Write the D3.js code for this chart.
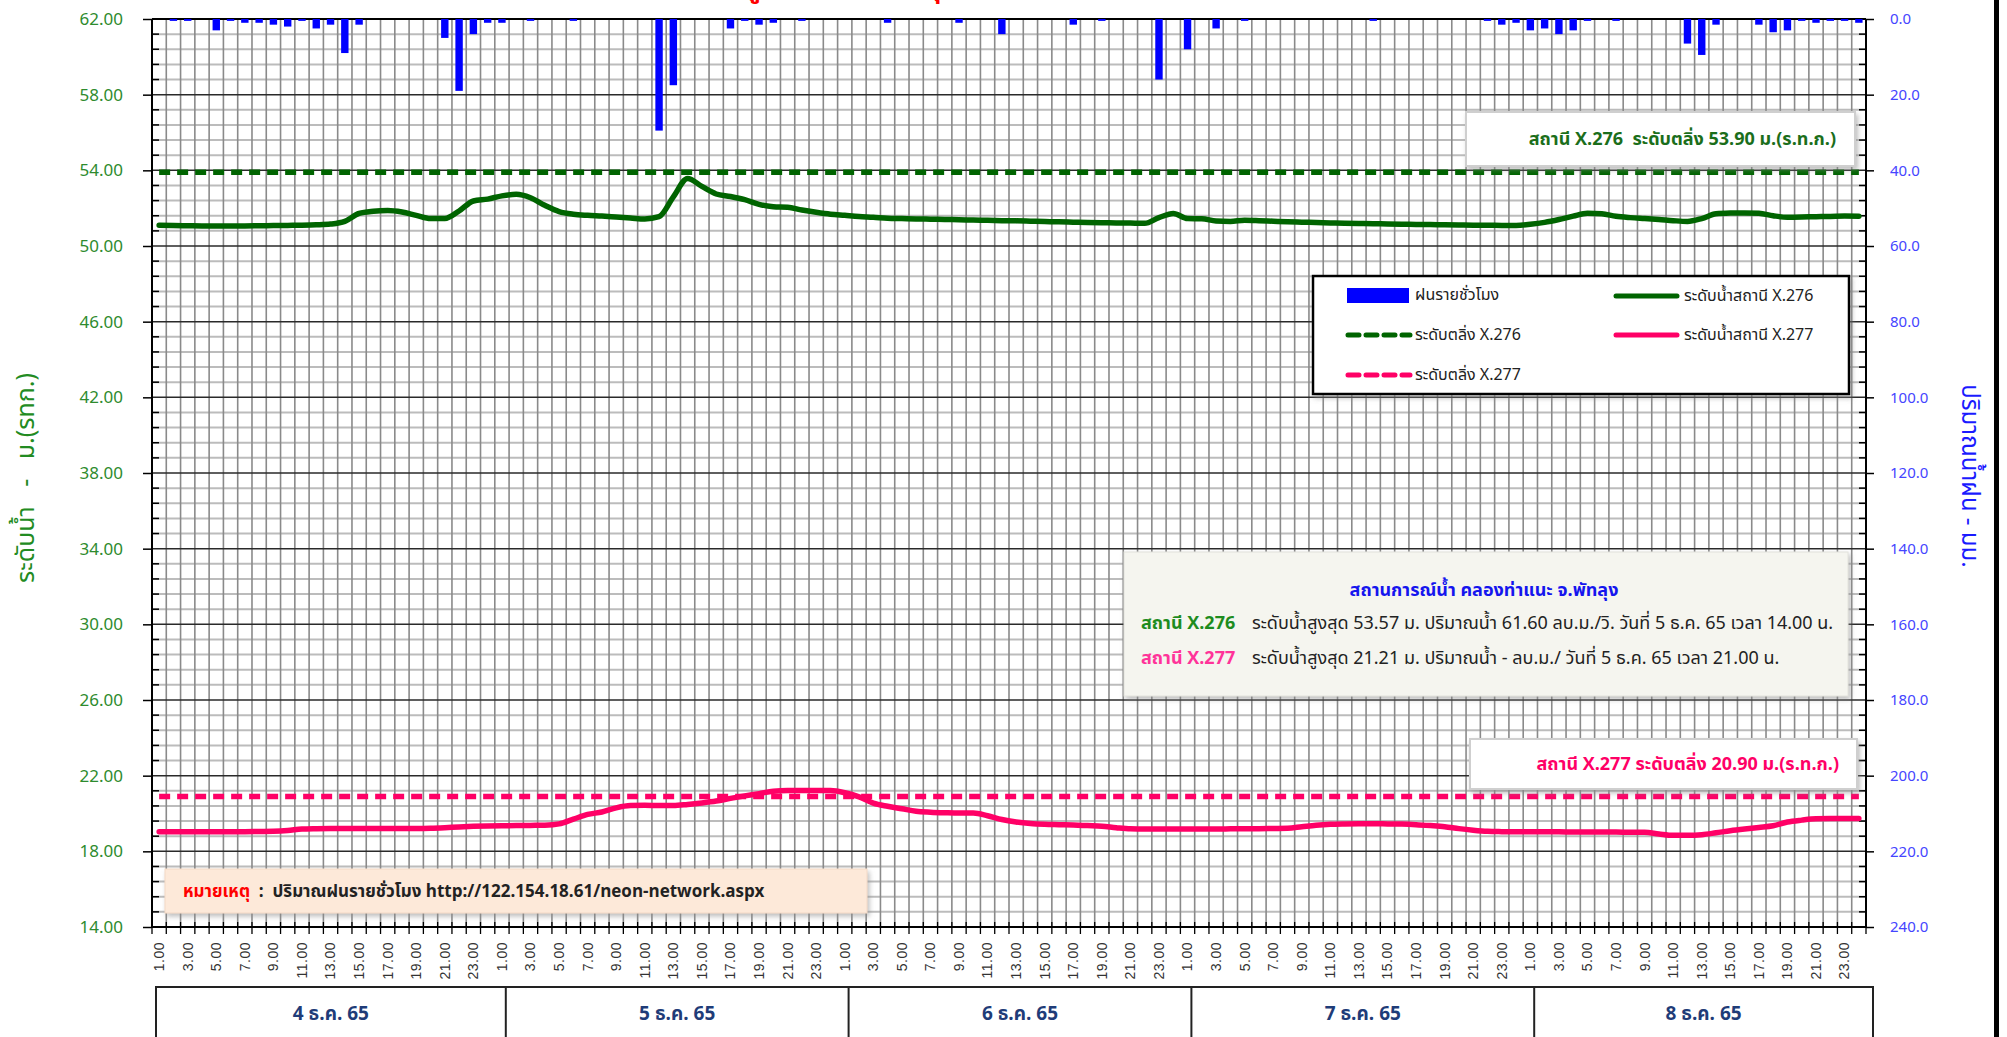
<!DOCTYPE html>
<html><head><meta charset="utf-8">
<script src="https://cdn.jsdelivr.net/npm/d3@7"></script>
<style>body{margin:0;background:#fff;} svg{display:block}</style>
</head><body>
<svg id="c" width="2007" height="1037"></svg>
<script>
// ---------------- DATA ----------------
const days = ["4 ธ.ค. 65", "5 ธ.ค. 65", "6 ธ.ค. 65", "7 ธ.ค. 65", "8 ธ.ค. 65"];
const hourTickLabels = ["1.00","3.00","5.00","7.00","9.00","11.00","13.00","15.00","17.00","19.00","21.00","23.00"];
const levelTicks = [14, 18, 22, 26, 30, 34, 38, 42, 46, 50, 54, 58, 62];
const rainTicks = [0, 20, 40, 60, 80, 100, 120, 140, 160, 180, 200, 220, 240];

// hourly rainfall (mm), 4-8 Dec 65, 1.00 .. 24.00 each day
const rain = [
  0, 0.5, 0.5, 0, 3.0, 0.5, 1.0, 1.0, 1.5, 2.0, 0.5, 2.5, 1.5, 9.0, 1.5, 0, 0, 0, 0, 0, 5.0, 19.0, 4.0, 1.0,
  1.0, 0, 0.5, 0, 0, 0.5, 0, 0, 0, 0, 0, 29.5, 17.5, 0, 0, 0, 2.5, 0.5, 1.5, 1.0, 0, 0.5, 0, 0,
  0, 0, 0, 1.0, 0, 0, 0, 0, 1.0, 0, 0, 4.0, 0, 0, 0, 0, 1.5, 0, 0.5, 0, 0, 0, 16.0, 0,
  8.0, 0, 2.5, 0, 0.5, 0, 0, 0, 0, 0, 0, 0, 0, 0.5, 0, 0, 0, 0, 0, 0, 0, 0.5, 1.5, 1.0,
  3.0, 2.5, 4.0, 3.0, 0.5, 0, 0.5, 0, 0, 0, 0, 6.5, 9.5, 1.5, 0, 0, 1.5, 3.5, 3.0, 0.5, 1.0, 0.5, 0.5, 1.0
];

// water level station X.276 (m. MSL)
const level276 = [
  51.10, 51.08, 51.07, 51.06, 51.06, 51.06, 51.06, 51.07, 51.08, 51.09, 51.10, 51.12, 51.16, 51.30,
  51.72, 51.84, 51.88, 51.80, 51.62, 51.45, 51.45, 51.85, 52.38, 52.48,
  52.65, 52.73, 52.55, 52.15, 51.82, 51.68, 51.62, 51.58, 51.53, 51.48, 51.43, 51.55, 52.60, 53.57,
  53.15, 52.75, 52.62, 52.45, 52.20, 52.08, 52.05, 51.90, 51.78, 51.68,
  51.62, 51.56, 51.52, 51.47, 51.45, 51.43, 51.42, 51.40, 51.39, 51.37, 51.36, 51.34, 51.33, 51.31,
  51.29, 51.28, 51.26, 51.24, 51.23, 51.22, 51.21, 51.20, 51.50, 51.72,
  51.45, 51.44, 51.32, 51.30, 51.36, 51.34, 51.31, 51.28, 51.26, 51.24, 51.22, 51.20, 51.19, 51.18,
  51.16, 51.15, 51.14, 51.13, 51.12, 51.11, 51.10, 51.10, 51.09, 51.09,
  51.15, 51.25, 51.40, 51.58, 51.73, 51.70, 51.57, 51.50, 51.45, 51.40, 51.34, 51.30, 51.45, 51.70,
  51.74, 51.75, 51.73, 51.60, 51.52, 51.53, 51.55, 51.56, 51.58, 51.57
];

// water level station X.277 (m. MSL)
const level277 = [
  19.04, 19.04, 19.04, 19.04, 19.04, 19.04, 19.04, 19.05, 19.06, 19.10, 19.18, 19.20, 19.21, 19.21,
  19.21, 19.21, 19.21, 19.21, 19.21, 19.22, 19.25, 19.29, 19.32, 19.34,
  19.35, 19.36, 19.37, 19.38, 19.45, 19.70, 19.95, 20.08, 20.30, 20.42, 20.43, 20.42, 20.42, 20.48,
  20.56, 20.66, 20.80, 20.93, 21.05, 21.18, 21.21, 21.21, 21.21, 21.21,
  21.10, 20.88, 20.55, 20.38, 20.25, 20.12, 20.07, 20.04, 20.02, 20.02, 19.88, 19.68, 19.55, 19.47,
  19.43, 19.41, 19.39, 19.36, 19.33, 19.25, 19.19, 19.18, 19.18, 19.18,
  19.18, 19.18, 19.18, 19.19, 19.20, 19.20, 19.21, 19.22, 19.30, 19.38, 19.43, 19.45, 19.46, 19.46,
  19.45, 19.44, 19.41, 19.36, 19.30, 19.20, 19.12, 19.06, 19.04, 19.03,
  19.03, 19.03, 19.03, 19.02, 19.02, 19.02, 19.02, 19.01, 19.01, 18.92, 18.85, 18.85, 18.88, 18.98,
  19.09, 19.18, 19.26, 19.35, 19.55, 19.65, 19.72, 19.73, 19.73, 19.73
];
const bank276 = 53.90;
const bank277 = 20.90;

// ---------------- LAYOUT ----------------
const FONT = "Tahoma, 'Noto Sans Thai', 'Noto Sans', 'DejaVu Sans', sans-serif";
const NUMFONT = "'Noto Sans', 'Liberation Sans', sans-serif";
const L = 152, R = 1866, T = 19, B = 927;
const GREEN = "#006400", PINK = "#ff0066", BLUE = "#0000ff";

const svg = d3.select("#c");
svg.append("rect").attr("width", 2007).attr("height", 1037).attr("fill", "#fff");

const defs = svg.append("defs");
const f = defs.append("filter").attr("id", "sh").attr("x", "-5%").attr("y", "-20%").attr("width", "115%").attr("height", "150%");
f.append("feDropShadow").attr("dx", 2).attr("dy", 3).attr("stdDeviation", 2.5).attr("flood-color", "#888").attr("flood-opacity", 0.55);

const idx = d3.range(rain.length);
const x = d3.scaleBand().domain(idx).range([L, R]).paddingInner(0).paddingOuter(0);
const bw = x.bandwidth();
const cx = i => x(i) + bw / 2;
const y = d3.scaleLinear().domain([14, 62]).range([B, T]);
const yr = d3.scaleLinear().domain([0, 240]).range([T, B]);

// title (mostly above the visible area, as in the source)
svg.append("text").attr("x", 693).attr("y", -3).attr("font-family", FONT).attr("font-size", 26)
  .attr("font-weight", "bold").attr("fill", "#ff0000").text("แผนภูมิระดับน้ำ จ.พัทลุง");

// ---------------- GRID ----------------
const grid = svg.append("g");
const minorVals = d3.range(0, 61).map(k => 14 + k * 0.8).filter(v => Math.abs((v - 14) / 4 - Math.round((v - 14) / 4)) > 1e-6);
grid.selectAll(".hm").data(minorVals).join("line")
  .attr("x1", L).attr("x2", R).attr("y1", d => y(d)).attr("y2", d => y(d))
  .attr("stroke", "#bcbcbc").attr("stroke-width", 2);
grid.selectAll(".v").data(d3.range(1, rain.length)).join("line")
  .attr("x1", d => x(d)).attr("x2", d => x(d)).attr("y1", T).attr("y2", B)
  .attr("stroke", "#8a8a8a").attr("stroke-width", 1.6);
grid.selectAll(".hM").data(levelTicks).join("line")
  .attr("x1", L).attr("x2", R).attr("y1", d => y(d)).attr("y2", d => y(d))
  .attr("stroke", "#2a2a2a").attr("stroke-width", 1.5);
grid.selectAll(".mtl").data(minorVals).join("line")
  .attr("x1", L).attr("x2", L + 7).attr("y1", d => y(d)).attr("y2", d => y(d))
  .attr("stroke", "#000").attr("stroke-width", 1.5);
grid.selectAll(".mtr").data(minorVals).join("line")
  .attr("x1", R - 7).attr("x2", R).attr("y1", d => y(d)).attr("y2", d => y(d))
  .attr("stroke", "#000").attr("stroke-width", 1.5);
grid.selectAll(".bt").data(d3.range(0, rain.length + 1)).join("line")
  .attr("x1", d => L + d * bw).attr("x2", d => L + d * bw).attr("y1", B - 5).attr("y2", B + 7)
  .attr("stroke", "#000").attr("stroke-width", 1.3);
grid.append("line").attr("x1", L).attr("x2", L).attr("y1", T).attr("y2", B).attr("stroke", "#000").attr("stroke-width", 2);
grid.append("line").attr("x1", R).attr("x2", R).attr("y1", T).attr("y2", B).attr("stroke", "#000").attr("stroke-width", 2);
grid.append("line").attr("x1", L).attr("x2", R).attr("y1", B).attr("y2", B).attr("stroke", "#000").attr("stroke-width", 2);
grid.append("line").attr("x1", L).attr("x2", R).attr("y1", T).attr("y2", T).attr("stroke", "#000").attr("stroke-width", 2);

// ---------------- AXES ----------------
const axL = svg.append("g").attr("transform", `translate(${L},0)`)
  .call(d3.axisLeft(y).tickValues(levelTicks).tickFormat(d3.format(".2f")).tickSize(9).tickPadding(20));
axL.select(".domain").remove();
axL.selectAll("line").attr("stroke", "#000").attr("stroke-width", 1.5);
axL.selectAll("text").attr("font-family", NUMFONT).attr("font-size", 17).attr("fill", "#2e8b2e");

const axR = svg.append("g").attr("transform", `translate(${R},0)`)
  .call(d3.axisRight(yr).tickValues(rainTicks).tickFormat(d3.format(".1f")).tickSize(8).tickPadding(16));
axR.select(".domain").remove();
axR.selectAll("line").attr("stroke", "#000").attr("stroke-width", 1.5);
axR.selectAll("text").attr("font-family", NUMFONT).attr("font-size", 15).attr("fill", "#4545ff");

const tickIdx = [];
const tickLab = {};
days.forEach((dd, d) => hourTickLabels.forEach((lab, k) => { const i = d * 24 + 2 * k; tickIdx.push(i); tickLab[i] = lab; }));
const axB = svg.append("g").attr("transform", `translate(0,${B})`)
  .call(d3.axisBottom(x).tickValues(tickIdx).tickFormat(i => tickLab[i]).tickSize(0));
axB.select(".domain").remove();
axB.selectAll("text").attr("transform", "rotate(-90)").attr("x", -15).attr("y", 0).attr("dy", "0.35em")
  .style("text-anchor", "end").attr("font-family", "'Liberation Sans', Arial, sans-serif")
  .attr("font-size", 14).attr("fill", "#333").attr("letter-spacing", 0.5);

// axis titles
svg.append("text").attr("transform", "translate(34,478) rotate(-90)").attr("text-anchor", "middle")
  .attr("font-family", FONT).attr("font-size", 25).attr("fill", "#228b22").style("white-space", "pre")
  .text("ระดับน้ำ   -   ม.(รทก.)");
svg.append("text").attr("transform", "translate(1962,476) rotate(90)").attr("text-anchor", "middle")
  .attr("font-family", FONT).attr("font-size", 24).attr("fill", "#1a1aff").style("white-space", "pre")
  .text("ปริมาณน้ำฝน - มม.");

// ---------------- MARKS ----------------
svg.append("g").selectAll("rect").data(idx.filter(i => rain[i] > 0)).join("rect")
  .attr("x", i => cx(i) - 3.7).attr("width", 7.4)
  .attr("y", yr(0)).attr("height", i => yr(rain[i]) - yr(0))
  .attr("fill", BLUE);

const flat = v => d3.line().x(i => cx(i)).y(() => y(v));
svg.append("path").datum(idx).attr("d", flat(bank276)).attr("fill", "none")
  .attr("stroke", GREEN).attr("stroke-width", 5.5).attr("stroke-dasharray", "11,7");
svg.append("path").datum(idx).attr("d", flat(bank277)).attr("fill", "none")
  .attr("stroke", PINK).attr("stroke-width", 5.5).attr("stroke-dasharray", "11,7");

const lineOf = arr => d3.line().x(i => cx(i)).y(i => y(arr[i])).curve(d3.curveMonotoneX);
svg.append("path").datum(idx).attr("d", lineOf(level276)).attr("fill", "none")
  .attr("stroke", GREEN).attr("stroke-width", 5.5).attr("stroke-linejoin", "round").attr("stroke-linecap", "round");
svg.append("path").datum(idx).attr("d", lineOf(level277)).attr("fill", "none")
  .attr("stroke", PINK).attr("stroke-width", 5.5).attr("stroke-linejoin", "round").attr("stroke-linecap", "round");

// ---------------- ANNOTATIONS ----------------
function box(x0, y0, w, h, fill, stroke, sw) {
  svg.append("rect").attr("x", x0).attr("y", y0).attr("width", w).attr("height", h)
    .attr("fill", fill).attr("stroke", stroke).attr("stroke-width", sw).attr("filter", "url(#sh)");
}
box(1466, 112, 389, 54, "#fff", "#cfcfcf", 2);
svg.append("text").attr("x", 1836).attr("y", 139).attr("dy", "0.35em").attr("text-anchor", "end")
  .attr("font-family", FONT).attr("font-size", 18).attr("font-weight", "bold").attr("fill", "#1b6e1b")
  .style("white-space", "pre").text(`สถานี X.276  ระดับตลิ่ง ${bank276.toFixed(2)} ม.(ร.ท.ก.)`);

box(1470, 739, 387, 50, "#fff", "#cfcfcf", 2);
svg.append("text").attr("x", 1839).attr("y", 764).attr("dy", "0.35em").attr("text-anchor", "end")
  .attr("font-family", FONT).attr("font-size", 18).attr("font-weight", "bold").attr("fill", PINK)
  .text(`สถานี X.277 ระดับตลิ่ง ${bank277.toFixed(2)} ม.(ร.ท.ก.)`);

box(1313, 276, 536, 118, "#fff", "#000", 2.5);
const lg = svg.append("g").attr("font-family", FONT).attr("font-size", 16).attr("fill", "#222");
lg.append("rect").attr("x", 1347).attr("y", 288).attr("width", 62).attr("height", 15).attr("fill", BLUE);
lg.append("text").attr("x", 1415).attr("y", 294).attr("dy", "0.35em").text("ฝนรายชั่วโมง");
lg.append("line").attr("x1", 1616).attr("x2", 1677).attr("y1", 296).attr("y2", 296).attr("stroke", GREEN).attr("stroke-width", 5).attr("stroke-linecap", "round");
lg.append("text").attr("x", 1684).attr("y", 295).attr("dy", "0.35em").text("ระดับน้ำสถานี X.276");
lg.append("line").attr("x1", 1348).attr("x2", 1410).attr("y1", 335).attr("y2", 335).attr("stroke", GREEN).attr("stroke-width", 5).attr("stroke-dasharray", "11,7").attr("stroke-linecap", "round");
lg.append("text").attr("x", 1415).attr("y", 334).attr("dy", "0.35em").text("ระดับตลิ่ง X.276");
lg.append("line").attr("x1", 1616).attr("x2", 1677).attr("y1", 335).attr("y2", 335).attr("stroke", PINK).attr("stroke-width", 5).attr("stroke-linecap", "round");
lg.append("text").attr("x", 1684).attr("y", 334).attr("dy", "0.35em").text("ระดับน้ำสถานี X.277");
lg.append("line").attr("x1", 1348).attr("x2", 1410).attr("y1", 375).attr("y2", 375).attr("stroke", PINK).attr("stroke-width", 5).attr("stroke-dasharray", "11,7").attr("stroke-linecap", "round");
lg.append("text").attr("x", 1415).attr("y", 374).attr("dy", "0.35em").text("ระดับตลิ่ง X.277");

box(1124, 552, 724, 144, "#f5f5ef", "#e2e2dc", 1);
const ib = svg.append("g").attr("font-family", FONT).attr("font-size", 18);
ib.append("text").attr("x", 1484).attr("y", 590).attr("dy", "0.35em").attr("text-anchor", "middle")
  .attr("font-weight", "bold").attr("fill", "#1515ee").text("สถานการณ์น้ำ คลองท่าแนะ จ.พัทลุง");
ib.append("text").attr("x", 1141).attr("y", 623).attr("dy", "0.35em").attr("font-weight", "bold").attr("fill", "#1e8c1e").text("สถานี X.276");
ib.append("text").attr("x", 1252).attr("y", 623).attr("dy", "0.35em").attr("fill", "#222")
  .text(`ระดับน้ำสูงสุด ${d3.max(level276).toFixed(2)} ม. ปริมาณน้ำ 61.60 ลบ.ม./วิ. วันที่ 5 ธ.ค. 65 เวลา 14.00 น.`);
ib.append("text").attr("x", 1141).attr("y", 658).attr("dy", "0.35em").attr("font-weight", "bold").attr("fill", "#ff3399").text("สถานี X.277");
ib.append("text").attr("x", 1252).attr("y", 658).attr("dy", "0.35em").attr("fill", "#222")
  .text(`ระดับน้ำสูงสุด ${d3.max(level277).toFixed(2)} ม. ปริมาณน้ำ - ลบ.ม./ วันที่ 5 ธ.ค. 65 เวลา 21.00 น.`);

box(165, 869, 702, 44, "#fde9d9", "#f3d9c6", 1);
const nt = svg.append("text").attr("x", 183).attr("y", 891).attr("dy", "0.35em").attr("font-family", FONT)
  .attr("font-size", 17).attr("font-weight", "bold").style("white-space", "pre");
nt.append("tspan").attr("fill", "#ff0000").text("หมายเหตุ");
nt.append("tspan").attr("fill", "#222").text("  :  ปริมาณฝนรายชั่วโมง http://122.154.18.61/neon-network.aspx");

// ---------------- DATE TABLE ----------------
const tb = svg.append("g");
const edges = days.map((d, k) => k === 0 ? L + 4 : x(k * 24) + 11).concat([R + 7]);
tb.append("rect").attr("x", edges[0]).attr("y", 987).attr("width", edges[5] - edges[0]).attr("height", 60)
  .attr("fill", "none").attr("stroke", "#222").attr("stroke-width", 2);
tb.selectAll(".dv").data(edges.slice(1, 5)).join("line")
  .attr("x1", d => d).attr("x2", d => d).attr("y1", 987).attr("y2", 1037).attr("stroke", "#222").attr("stroke-width", 2);
tb.selectAll(".dl").data(days).join("text")
  .attr("x", (d, k) => (edges[k] + edges[k + 1]) / 2).attr("y", 1013).attr("dy", "0.35em")
  .attr("text-anchor", "middle").attr("font-family", FONT).attr("font-size", 19).attr("font-weight", "bold")
  .attr("fill", "#1f3c78").text(d => d);

svg.append("rect").attr("x", 1994).attr("y", 0).attr("width", 5).attr("height", 1037).attr("fill", "#000");
</script>
</body></html>
